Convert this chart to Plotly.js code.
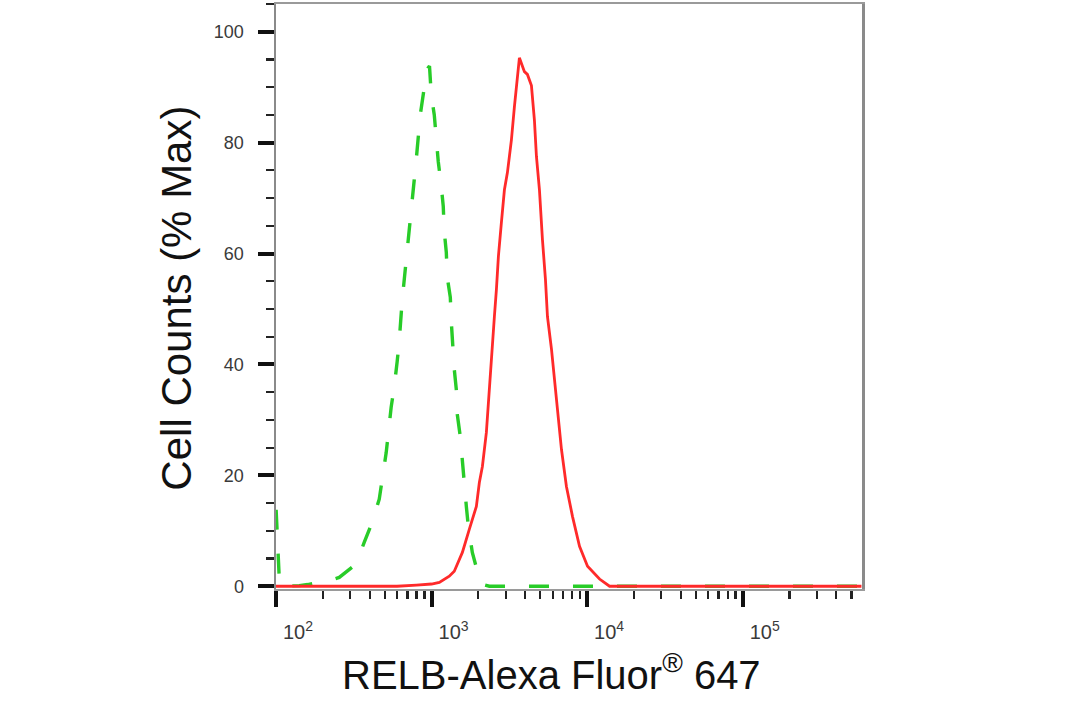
<!DOCTYPE html>
<html>
<head>
<meta charset="utf-8">
<script src="https://cdn.plot.ly/plotly-3.0.1.min.js"></script>
<style>html,body{margin:0;padding:0;background:#fff;}#chart{width:1084px;height:718px;}</style>
</head>
<body>
<div id="chart"></div>
<script>
// Control (isotype) histogram - green dashed
const controlX = [100.2, 102.5, 105, 108, 125, 141, 160, 176, 200, 230, 255, 290, 327, 369, 415, 461, 482, 511, 550, 575, 601, 619, 648, 677, 698, 730, 752, 774, 797, 821, 846, 897, 952, 970, 996, 1041, 1072, 1104, 1155, 1189, 1207, 1244, 1262, 1320, 1340, 1359, 1400, 1442, 1463, 1530, 1577, 1624, 1673, 1723, 1828, 1969, 2089, 2353, 3000, 5000, 10000, 30000, 100000, 300000, 580000];
const controlY = [13.8, 6, 1.2, 0, 0, 0.1, 0.3, 0.5, 0.8, 1.2, 1.6, 2.8, 4.0, 7.9, 11.5, 15.7, 19.3, 24.1, 32.3, 35.9, 40.5, 44, 51.7, 56.8, 60.7, 65.2, 68.8, 73.3, 76.9, 81.8, 85, 89.9, 93.5, 93.8, 88.6, 85, 80.2, 76.6, 72.1, 68.5, 64, 60.2, 55.7, 52.1, 47.6, 44, 39.1, 35.5, 31, 27, 22.3, 18.7, 14.4, 10.8, 6.1, 2.7, 0.4, 0, 0, 0, 0, 0, 0, 0, 0];

// RELB stained histogram - red solid
const relbX = [100, 300, 600, 800, 925, 1000, 1122, 1300, 1400, 1507, 1578, 1750, 1941, 2029, 2122, 2250, 2285, 2423, 2534, 2611, 2690, 2812, 2940, 3073, 3261, 3409, 3670, 3953, 4132, 4385, 4584, 4723, 4937, 5162, 5397, 5560, 5902, 6353, 6839, 7362, 8050, 8935, 10060, 12020, 13940, 20000, 50000, 100000, 300000, 580000];
const relbY = [0, 0, 0, 0.2, 0.3, 0.4, 0.7, 1.8, 2.7, 4.9, 6.1, 10.3, 14.4, 18.7, 21.6, 27.7, 30.6, 39.6, 48.6, 53.5, 59.5, 65.6, 71.5, 74.6, 80.5, 86.5, 95.3, 92.8, 92.3, 90.3, 84.0, 77.5, 71.5, 62.5, 55.3, 48.6, 42.7, 33.7, 24.7, 18, 12.6, 7.2, 3.6, 1.3, 0, 0, 0, 0, 0, 0];

// Axis ticks
const xTickVals = [100, 1000, 10000, 100000];
const xTickText = ['10<sup>2</sup>', '10<sup>3</sup>', '10<sup>4</sup>', '10<sup>5</sup>'];
const yTickVals = [0, 20, 40, 60, 80, 100];
const yTickText = ['0', '20', '40', '60', '80', '100'];
const xMinorMultipliers = [2, 3, 4, 5, 6, 7, 8, 9];
const yMinorVals = [5, 10, 15, 25, 30, 35, 45, 50, 55, 65, 70, 75, 85, 90, 95, 105];

const xMinorVals = [];
xTickVals.forEach(d => xMinorMultipliers.forEach(m => { if (d * m <= 580000) xMinorVals.push(d * m); }));

const FONT = 'Liberation Sans, Arial, Helvetica, sans-serif';

const traces = [
  {
    x: controlX, y: controlY, type: 'scatter', mode: 'lines', name: 'Control',
    line: {color: '#28cc28', width: 3.4, dash: '20px,24px'}, hoverinfo: 'x+y'
  },
  {
    x: relbX, y: relbY, type: 'scatter', mode: 'lines', name: 'RELB',
    line: {color: '#ff2a2a', width: 2.8}, hoverinfo: 'x+y'
  }
];

const layout = {
  width: 1084, height: 718,
  margin: {l: 276, r: 222, t: 4, b: 129, pad: 0},
  paper_bgcolor: '#ffffff', plot_bgcolor: '#ffffff',
  showlegend: false,
  font: {family: FONT},
  xaxis: {
    type: 'log', range: [2, 5.767],
    showline: true, linecolor: '#9a9a9a', linewidth: 2, mirror: true,
    showgrid: false, zeroline: false,
    ticks: 'outside', ticklen: 16, tickwidth: 4, tickcolor: '#111',
    tickmode: 'array', tickvals: xTickVals, ticktext: xTickText,
    tickfont: {family: FONT, size: 20, color: '#3a3a3a'},
    ticklabelshift: 22, ticklabelstandoff: 8,
    minor: {tickmode: 'array', tickvals: xMinorVals, ticks: 'outside', ticklen: 8, tickwidth: 2.2, tickcolor: '#222', showgrid: false}
  },
  yaxis: {
    range: [-0.5, 105],
    showline: true, linecolor: '#8a8a8a', linewidth: 2.5, mirror: true,
    showgrid: false, zeroline: false,
    ticks: 'outside', ticklen: 16, tickwidth: 4, tickcolor: '#111',
    tickmode: 'array', tickvals: yTickVals, ticktext: yTickText,
    tickfont: {family: FONT, size: 18, color: '#3a3a3a'},
    ticklabelstandoff: 10,
    minor: {tickmode: 'array', tickvals: yMinorVals, ticks: 'outside', ticklen: 8, tickwidth: 2.2, tickcolor: '#222', showgrid: false}
  },
  annotations: [
    {
      text: 'RELB-Alexa Fluor<sup>®</sup> 647', xref: 'paper', yref: 'paper',
      x: 0.470, y: 0, xanchor: 'center', yanchor: 'middle', yshift: -83,
      showarrow: false, font: {family: FONT, size: 40, color: '#111'}
    },
    {
      text: 'Cell Counts (% Max)', xref: 'paper', yref: 'paper',
      x: -0.170, y: 0.497, xanchor: 'center', yanchor: 'middle', textangle: -90,
      showarrow: false, font: {family: FONT, size: 42, color: '#111'}
    }
  ]
};

Plotly.newPlot('chart', traces, layout, {displayModeBar: false, staticPlot: true});
</script>
</body>
</html>
